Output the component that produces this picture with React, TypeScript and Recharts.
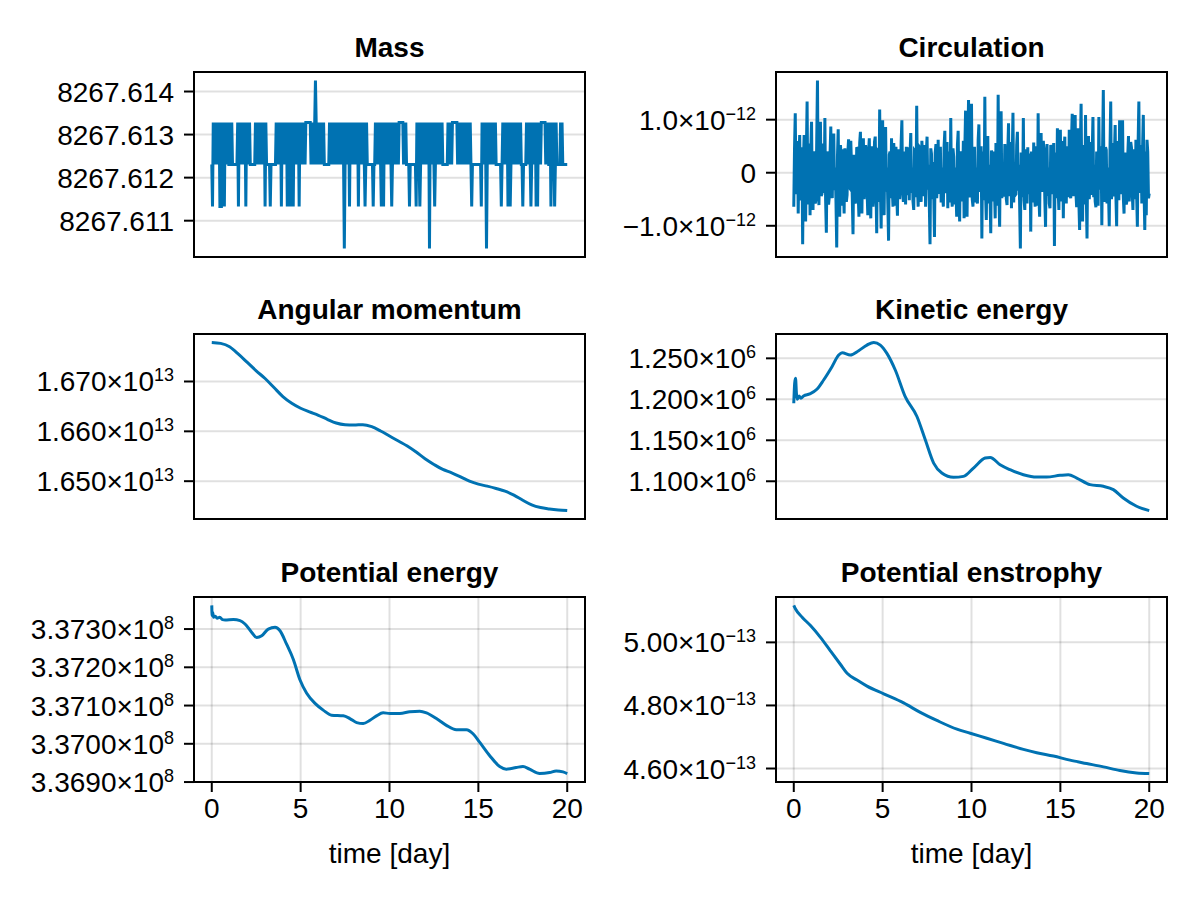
import { LineChart, Line, XAxis, YAxis, CartesianGrid } from "recharts";

const FONT = '"Liberation Sans", Arial, sans-serif';
const FS = 28;
const BLUE = "#0072b2";
const PW = 391;
const PH = 185;
const COLS = [194, 776];
const ROWS = [72, 334, 597];

const xTicks = [0, 5, 10, 15, 20];

// Mass: values sit on a few float32 steps, one code per hour
const massLevels: Record<string, number> = {
  D: 8267.610352,
  d: 8267.611328,
  "0": 8267.612305,
  "1": 8267.613281,
  u: 8267.614258,
};
const massDays = [
  "0d101010101ddd101d101010",
  "010100000001d101010101d1",
  "010100000001010101010101",
  "d100000d00000001010101d1",
  "010101d101d101d1010101d1",
  "01010101111111010101u101",
  "010101010000000101010101",
  "01010101010D010101d10101",
  "010101d10101010d01000000",
  "00d0010101010d01d1010101",
  "010d01010101011111101010",
  "000d00000000d1010d010101",
  "010101D101010d0101010101",
  "000000010101011111110101",
  "010101010101010d00000000",
  "0000d101010D010101010101",
  "0000000d01010101d10d0101",
  "010101010100d0000101010d",
  "010101d1d101011111101010",
  "01d1010d0100000101000000",
  "0",
];
const massTicks = [8267.611, 8267.612, 8267.613, 8267.614];
const massLabels = [["8267.611", ""], ["8267.612", ""], ["8267.613", ""], ["8267.614", ""]];

// Circulation, units of 1e-14, one value per hour (even hours / odd hours)
const circEven = [
  -64, 112, -40, -77, 71, -30, -135, 71, -92, 134,
  -20, -80, 96, -70, 40, -50, 174, -61, 96, -40,
  55, 103, -113, 30, -45, 87, -48, 74, 10, -141,
  82, -83, 35, 44, -77, 20, -42, 63, -30, 11,
  -116, 20, -50, 45, -83, 77, -77, 65, -20, 40,
  -80, 65, -86, 30, -40, 68, -114, 40, 119, -105,
  99, -80, 86, 10, -128, 40, 65, -64, 20, 49,
  -81, 30, -20, 99, -55, 25, 49, -30, -52, 75,
  10, -70, 40, 126, -64, 48, -55, 30, -30, -64,
  68, 15, -135, 35, 20, -121, 54, -20, -40, 49,
  10, -64, 79, -30, -67, 40, 103, -64, 30, 10,
  -83, 79, -92, 40, -20, -86, 117, -83, 137, -40,
  130, -64, 49, 10, -58, 91, -20, -124, 40, 143,
  -89, 69, 15, -114, 30, 40, -86, 20, 147, -102,
  116, 10, -45, 30, -61, 93, -20, -67, 113, 20,
  -40, 77, 15, -143, 30, 103, -70, 20, 48, -40,
  -111, 30, 57, -64, 25, 112, -83, 75, -20, 35,
  -102, 54, 10, -67, 48, -30, -138, 30, 84, -70,
  81, -20, -86, 68, -58, 20, 81, -48, 111, -30,
  109, -65, 84, -108, 130, -92, 30, 109, -124, 69,
  -20, -42, 105, 15, -65, 30, 105, -20, -99, 156,
  -55, 43, 10, -101, 134, -30, -45, 90, -101, 20,
  99, -30, 99, -77, 20, -52, 69, -20, 48, -70,
  25, 62, -102, 134, -20, -58, 109, -108, -80, 40,
  -39,
];
const circOdd = [
  45, -35, 60, 30, -52, 48, 20, -40, 38, -60,
  55, 42, -45, 36, -58, 62, -30, 50, -44, 28,
  -38, -52, 40, -60, 35, -25, 58, -33, -55, 30,
  -48, 52, -62, -20, 46, -55, 38, -28, 60, -46,
  34, -58, 48, -40, 56, -32, 44, -50, 52, -36,
  38, -44, 50, -64, 58, -26, 42, -55, -30, 45,
  -40, 52, -36, -58, 34, -48, -30, 56, -62, -40,
  44, -50, 58, -34, 40, -60, -42, 48, 36, -38,
  -54, 42, -46, -28, 50, -36, 60, -44, 52, 38,
  -32, -58, 46, -50, -40, 38, -48, 62, 30, -56,
  -44, 50, -38, 58, 34, -56, -40, 46, -60, -34,
  52, -42, 36, -54, 60, 44, -30, 48, -46, 58,
  -50, 38, -56, -44, 62, -36, 50, 32, -52, -40,
  46, -58, -40, 42, -54, -30, 56, -62, -38, 50,
  -48, -36, 54, -50, 40, -44, 58, 30, -56, -42,
  52, -34, -60, 38, -46, -52, 44, -58, -30, 36,
  40, -56, -38, 50, -62, -42, 48, -36, 60, -50,
  34, -44, -58, 52, -40, 56, 38, -48, -32, 46,
  -54, 60, 42, -36, 50, -46, -40, 58, -44, 34,
  -38, 48, -56, 44, -34, 52, -60, -42, 40, -50,
  58, 36, -46, -54, 40, -62, -32, 50, 44, -40,
  48, -58, -36, 42, -50, 56, 34, -44, 60, -52,
  -40, 54, -46, 38, -60, 32, -54, 58, -36, 44,
  -50, -42, 56, -38, 52, 46, -34, 40, 62, -48,
];
const circTicks = [-100, 0, 100];
const circLabels = [["\u22121.0\u00d710", "\u221212"], ["0", ""], ["1.0\u00d710", "\u221212"]];

// Angular momentum, units of 1e13
const amTime = [
  0, 0.5, 1, 1.5, 2, 2.5, 3, 3.5, 4, 4.5, 5, 5.5, 6, 6.5, 7, 7.5, 8, 8.5, 9, 9.5, 10,
  10.5, 11, 11.5, 12, 12.5, 13, 13.5, 14, 14.5, 15, 15.5, 16, 16.5, 17, 17.5, 18, 18.5, 19, 19.5, 20,
];
const amValues = [
  1.67784, 1.67764, 1.67697, 1.67549, 1.67382, 1.67214, 1.6706, 1.66879, 1.66698, 1.66563,
  1.66463, 1.66389, 1.66322, 1.66241, 1.66168, 1.66134, 1.66127, 1.66134, 1.66094, 1.66007,
  1.65906, 1.65805, 1.65705, 1.65584, 1.6545, 1.65336, 1.65235, 1.65168, 1.65088, 1.65001,
  1.6494, 1.649, 1.64853, 1.64799, 1.64719, 1.64618, 1.64525, 1.64471, 1.64444, 1.64424,
  1.6441,
];
const amTicks = [1.65, 1.66, 1.67];
const amLabels = [["1.650\u00d710", "13"], ["1.660\u00d710", "13"], ["1.670\u00d710", "13"]];

// Kinetic energy, units of 1e6
const keTime = [
  0, 0.05, 0.1, 0.15, 0.2, 0.3, 0.4, 0.55, 0.9, 1.3, 1.68, 2.15, 2.53, 2.72, 3.18,
  3.65, 4.12, 4.5, 4.87, 5.24, 5.71, 6.27, 6.93, 7.4, 7.87, 8.33, 8.99, 9.55, 10.11, 10.77,
  11.05, 11.61, 12.17, 12.92, 13.67, 14.23, 14.98, 15.45, 15.92, 16.67, 17.42, 17.98, 18.54, 19.29, 20,
];
const keValues = [
  1.19522, 1.21955, 1.22563, 1.20738, 1.20008, 1.20414, 1.2013, 1.20414, 1.20657, 1.21225,
  1.2236, 1.23982, 1.25401, 1.25685, 1.25401, 1.25928, 1.26618, 1.26943, 1.26618, 1.25605,
  1.23577, 1.20332, 1.17899, 1.15061, 1.12222, 1.11006, 1.10478, 1.106, 1.11614, 1.12831,
  1.12911, 1.12019, 1.11411, 1.10803, 1.10519, 1.10519, 1.10721, 1.10803, 1.10398, 1.09586,
  1.09383, 1.08978, 1.07965, 1.0695, 1.06423,
];
const keTicks = [1.1, 1.15, 1.2, 1.25];
const keLabels = [["1.100\u00d710", "6"], ["1.150\u00d710", "6"], ["1.200\u00d710", "6"], ["1.250\u00d710", "6"]];

// Potential energy, units of 1e8
const peTime = [
  0, 0.02, 0.05, 0.1, 0.2, 0.3, 0.45, 0.6, 0.75, 1.22, 1.59, 1.87, 2.25, 2.53, 2.81,
  3.18, 3.56, 3.84, 4.21, 4.59, 4.96, 5.34, 5.81, 6.27, 6.74, 7.4, 7.77, 8.15, 8.52, 8.9,
  9.27, 9.64, 10.02, 10.58, 11.14, 11.7, 12.08, 12.64, 13.2, 13.76, 14.33, 14.7, 15.07, 15.64, 16.2,
  16.57, 17.13, 17.51, 17.88, 18.45, 19.01, 19.38, 19.76, 20,
];
const peValues = [
  3.373618, 3.373353, 3.373442, 3.373309, 3.373336, 3.373283, 3.373309, 3.373247, 3.373238, 3.373247,
  3.373221, 3.373132, 3.372912, 3.372779, 3.372823, 3.373, 3.373044, 3.372956, 3.372603, 3.372205,
  3.371675, 3.371322, 3.371057, 3.370881, 3.370748, 3.370731, 3.37066, 3.370554, 3.370528, 3.370616,
  3.370731, 3.37081, 3.370793, 3.370793, 3.370837, 3.370854, 3.37081, 3.37066, 3.370483, 3.370369,
  3.370369, 3.370263, 3.370042, 3.369689, 3.369406, 3.369336, 3.36938, 3.369406, 3.369336, 3.369221,
  3.369247, 3.369291, 3.369265, 3.369221,
];
const peTicks = [3.369, 3.37, 3.371, 3.372, 3.373];
const peLabels = [
  ["3.3690\u00d710", "8"], ["3.3700\u00d710", "8"], ["3.3710\u00d710", "8"],
  ["3.3720\u00d710", "8"], ["3.3730\u00d710", "8"],
];

// Potential enstrophy, units of 1e-13
const pensTime = [
  0, 0.09, 0.47, 0.94, 1.5, 2.06, 2.62, 3, 3.56, 4.12, 5.06, 6.18, 7.12, 8.05,
  9.18, 9.93, 10.86, 11.8, 12.92, 13.67, 14.61, 15.54, 16.48, 17.42, 18.35, 19.29, 20,
];
const pensValues = [
  5.1172, 5.1066, 5.0799, 5.0532, 5.0159, 4.9732, 4.9306, 4.9018, 4.8804, 4.8612, 4.8367,
  4.8079, 4.778, 4.7524, 4.7247, 4.7119, 4.6959, 4.6799, 4.6607, 4.65, 4.6394, 4.6266,
  4.6159, 4.6052, 4.5935, 4.586, 4.5839,
];
const pensTicks = [4.6, 4.8, 5.0];
const pensLabels = [["4.60\u00d710", "\u221213"], ["4.80\u00d710", "\u221213"], ["5.00\u00d710", "\u221213"]];

const massData = massDays.join("").split("").map((c, i) => ({ t: i / 24, v: massLevels[c] }));
const circData = circEven.flatMap((v, i) =>
  i < circOdd.length ? [{ t: i / 12, v }, { t: i / 12 + 1 / 24, v: circOdd[i] }] : [{ t: i / 12, v }]
);
const zip = (ts: number[], vs: number[]) => ts.map((t, i) => ({ t, v: vs[i] }));

// Makie-style autolimits: 5% on each side
function pad(data: { v: number }[]): [number, number] {
  const vs = data.map((d) => d.v);
  const lo = Math.min(...vs);
  const hi = Math.max(...vs);
  const m = (hi - lo) * 0.05;
  return [lo - m, hi + m];
}

function YTick(props: any) {
  const { x, y, payload, ticks, labels } = props;
  const i = ticks.indexOf(payload.value);
  const [m, e] = labels[i] ?? [String(payload.value), ""];
  return (
    <text x={x} y={y} dy={10} textAnchor="end" fontFamily={FONT} fontSize={FS} fill="#000">
      {m}
      {e ? (
        <tspan dy={-10} fontSize={18}>
          {e}
        </tspan>
      ) : null}
    </text>
  );
}

function XTick(props: any) {
  const { x, y, payload } = props;
  return (
    <text x={x} y={y} dy={21} textAnchor="middle" fontFamily={FONT} fontSize={FS} fill="#000">
      {String(payload.value)}
    </text>
  );
}

type PanelProps = {
  col: number;
  row: number;
  title: string;
  data: { t: number; v: number }[];
  smooth?: boolean;
  ticks: number[];
  labels: string[][];
};

function Panel({ col, row, title, data, smooth, ticks, labels }: PanelProps) {
  const px = COLS[col];
  const py = ROWS[row];
  const showX = row === 2;
  const AXW = 190;
  const TOP = 6;
  const RIGHT = 6;
  const XH = 50;
  return (
    <>
      <div style={{ position: "absolute", left: px - AXW, top: py - TOP }}>
        <LineChart
          width={AXW + PW + RIGHT}
          height={TOP + PH + (showX ? XH : 6)}
          data={data}
          margin={{ top: TOP, right: RIGHT, left: 0, bottom: showX ? 0 : 6 }}
        >
          <CartesianGrid vertical={showX} stroke="#000" strokeOpacity={0.12} strokeWidth={2} />
          <XAxis
            type="number"
            dataKey="t"
            domain={[-1, 21]}
            ticks={xTicks}
            interval={0}
            hide={!showX}
            height={XH}
            tickSize={10}
            tickMargin={5}
            axisLine={false}
            tickLine={{ stroke: "#000", strokeWidth: 2 }}
            tick={<XTick />}
          />
          <YAxis
            type="number"
            dataKey="v"
            domain={pad(data)}
            ticks={ticks}
            interval={0}
            width={AXW}
            tickSize={10}
            tickMargin={10}
            axisLine={false}
            tickLine={{ stroke: "#000", strokeWidth: 2 }}
            tick={<YTick ticks={ticks} labels={labels} />}
          />
          <Line
            type={smooth ? "monotone" : "linear"}
            dataKey="v"
            stroke={BLUE}
            strokeWidth={3}
            dot={false}
            isAnimationActive={false}
          />
        </LineChart>
      </div>
      <div
        style={{
          position: "absolute",
          left: px - 1,
          top: py - 1,
          width: PW + 2,
          height: PH + 2,
          border: "2px solid #000",
          boxSizing: "border-box",
          pointerEvents: "none",
        }}
      />
      <div
        style={{
          position: "absolute",
          left: px,
          width: PW,
          top: py - 38,
          textAlign: "center",
          fontWeight: "bold",
          fontSize: FS,
          lineHeight: `${FS}px`,
        }}
      >
        {title}
      </div>
      {showX && (
        <div
          style={{
            position: "absolute",
            left: px,
            width: PW,
            top: 840,
            textAlign: "center",
            fontSize: FS,
            lineHeight: `${FS}px`,
          }}
        >
          time [day]
        </div>
      )}
    </>
  );
}

export default function App() {
  return (
    <div
      style={{
        position: "absolute",
        left: 0,
        top: 0,
        width: 1200,
        height: 900,
        background: "#fff",
        fontFamily: FONT,
        color: "#000",
      }}
    >
      <Panel col={0} row={0} title="Mass" data={massData} ticks={massTicks} labels={massLabels} />
      <Panel col={1} row={0} title="Circulation" data={circData} ticks={circTicks} labels={circLabels} />
      <Panel col={0} row={1} title="Angular momentum" data={zip(amTime, amValues)} smooth ticks={amTicks} labels={amLabels} />
      <Panel col={1} row={1} title="Kinetic energy" data={zip(keTime, keValues)} smooth ticks={keTicks} labels={keLabels} />
      <Panel col={0} row={2} title="Potential energy" data={zip(peTime, peValues)} smooth ticks={peTicks} labels={peLabels} />
      <Panel col={1} row={2} title="Potential enstrophy" data={zip(pensTime, pensValues)} smooth ticks={pensTicks} labels={pensLabels} />
    </div>
  );
}
